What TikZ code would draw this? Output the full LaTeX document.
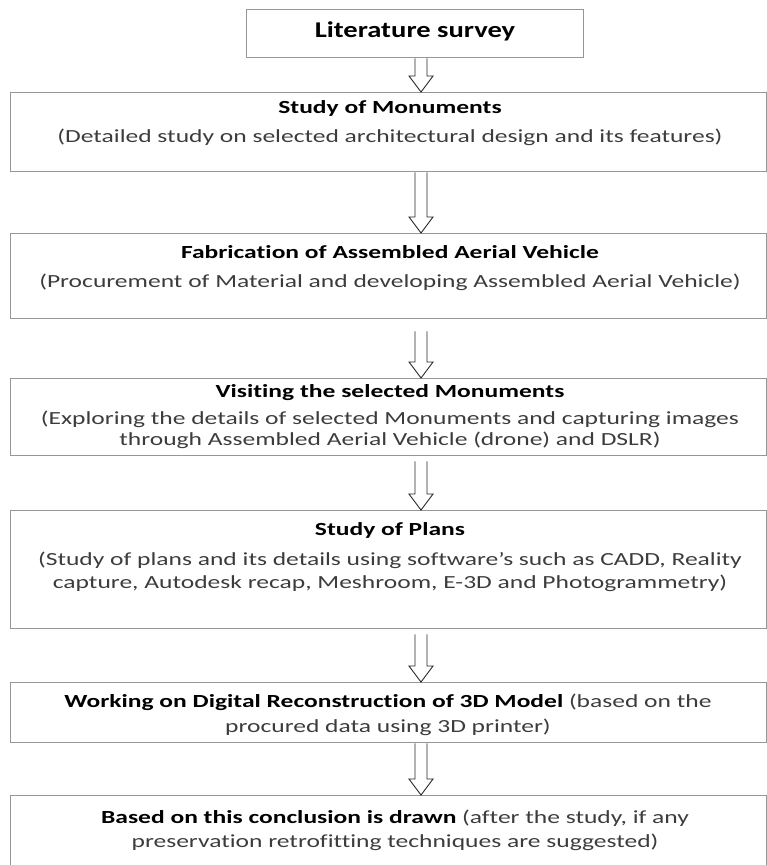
\documentclass[tikz,border=0pt]{standalone}
\usepackage{fontspec}
\setmainfont{Carlito}[FakeStretch=1.38, Ligatures={NoCommon}]
\newfontfamily\litfont{Carlito}[FakeStretch=1.27, Ligatures={NoCommon}]
\usetikzlibrary{calc}

\tikzset{
  stagebox/.style={draw={rgb, 255:red, 150; green, 150; blue, 150}, line width=1.3pt, anchor=north west, inner sep=0pt},
  stagetext/.style={inner sep=0.75pt, align=center, text={rgb, 255:red, 60; green, 60; blue, 60}, font=\fontsize{18.5}{23}\selectfont},
  flowarrow/.style={draw={rgb, 255:red, 40; green, 40; blue, 40}, line width=0.9pt, fill=white, line join=miter},
}
\newcommand{\stagehead}[1]{\textbf{\color{black}#1}}
% hollow block arrow from one box down to the next, on the arrow axis
\newcommand{\hollowarrow}[3][0]{%
  \coordinate (s) at ($(#2.south -| axis)+(0,#1)$);
  \coordinate (t) at (#3.north -| axis);
  \draw [flowarrow] ($(s)+(-6,0)$) -- ($(t)+(-6,-16)$) -- ($(t)+(-12,-16)$) -- (t) -- ($(t)+(12,-16)$) -- ($(t)+(6,-16)$) -- ($(s)+(6,0)$) ;
}

\begin{document}
\begin{tikzpicture}[x=1pt,y=1pt,yscale=-1,xscale=1]
\useasboundingbox (0,0) rectangle (767,865);
\coordinate (axis) at (421,0);

%Shape: Rectangle [lit]
\node [stagebox, minimum width=337, minimum height=48] (lit) at (246,9) {};
%Shape: Rectangle [monu]
\node [stagebox, minimum width=756, minimum height=79] (monu) at (10,92) {};
%Shape: Rectangle [fab]
\node [stagebox, minimum width=756, minimum height=85] (fab) at (10,233) {};
%Shape: Rectangle [visit]
\node [stagebox, minimum width=756, minimum height=77] (visit) at (10,378) {};
%Shape: Rectangle [plans]
\node [stagebox, minimum width=756, minimum height=118] (plans) at (10,510) {};
%Shape: Rectangle [model]
\node [stagebox, minimum width=756, minimum height=60] (model) at (10,682) {};
%Shape: Rectangle [concl]
\node [stagebox, minimum width=756, minimum height=90] (concl) at (10,795) {};

%Block Arrows
\hollowarrow{lit}{monu}
\hollowarrow{monu}{fab}
\hollowarrow[12]{fab}{visit}
\hollowarrow[5]{visit}{plans}
\hollowarrow[5]{plans}{model}
\hollowarrow{model}{concl}

% Text Node
\node [stagetext, font=\litfont\fontsize{22.5}{26}\selectfont\bfseries, text=black] (lit-txt) at (415,31) {Literature survey};
% Text Node
\node [stagetext] (monu-txt) at (390,123) {\stagehead{Study of Monuments}\\[6pt] (Detailed study on selected architectural design and its features)};
% Text Node
\node [stagetext] (fab-txt) at (390,268) {\stagehead{Fabrication of Assembled Aerial Vehicle}\\[6pt] (Procurement of Material and developing Assembled Aerial Vehicle)};
% Text Node
\node [stagetext] (visit-txt) at (390,417) {\stagehead{Visiting the selected Monuments}\\[4pt] (Exploring the details of selected Monuments and capturing images\\[-2pt] through Assembled Aerial Vehicle (drone) and DSLR)};
% Text Node
\node [stagetext] (plans-txt) at (390,557) {\stagehead{Study of Plans}\\[7pt] (Study of plans and its details using software’s such as CADD, Reality\\ capture, Autodesk recap, Meshroom, E-3D and Photogrammetry)};
% Text Node
\node [stagetext] (model-txt) at (388,715) {\stagehead{Working on Digital Reconstruction of 3D Model} (based on the\\[2pt] procured data using 3D printer)};
% Text Node
\node [stagetext] (concl-txt) at (395,830) {\stagehead{Based on this conclusion is drawn} (after the study, if any\\[1pt] preservation retrofitting techniques are suggested)};

\end{tikzpicture}
\end{document}
